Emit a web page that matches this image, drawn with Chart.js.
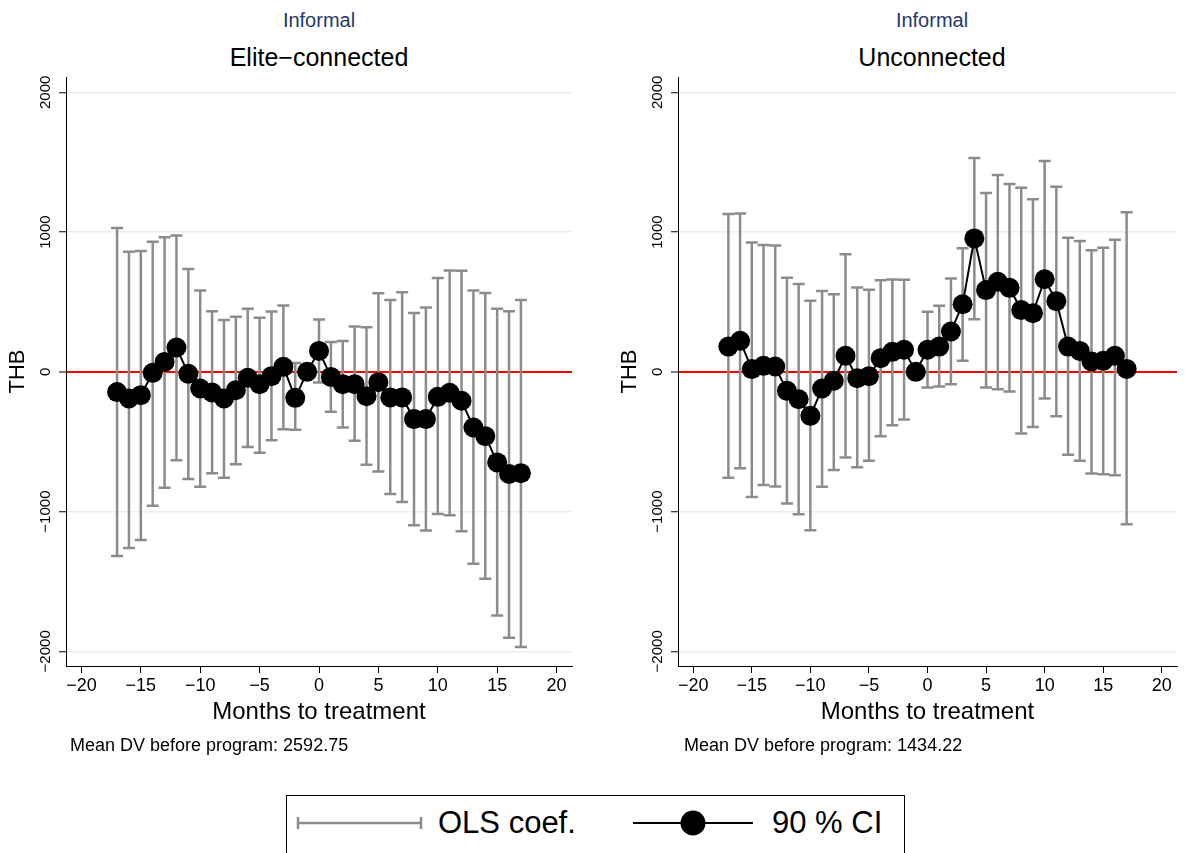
<!DOCTYPE html>
<html>
<head>
<meta charset="utf-8">
<script src="https://cdn.jsdelivr.net/npm/chart.js@4.4.1/dist/chart.umd.min.js"></script>
<style>
  body { margin: 0; background: #fff; width: 1187px; height: 853px; position: relative; overflow: hidden;
         font-family: "Liberation Sans", Arial, sans-serif; }
  canvas { position: absolute; }
  .t { position: absolute; white-space: nowrap; transform: translate(-50%, -50%); }
  .title { font-size: 20px; color: #26396b; }
  .sub { font-size: 25px; color: #000; }
  .note { position: absolute; font-size: 18px; color: #000; white-space: nowrap; transform: translateY(-50%); }
  .legend { position: absolute; left: 286px; top: 795px; width: 619px; height: 60px; border: 1px solid #000; box-sizing: border-box; }
  .legend span { position: absolute; top: 27px; transform: translateY(-50%); font-size: 31px; color: #000; }
</style>
</head>
<body>
<div class="t title" style="left:319px; top:20px;">Informal</div>
<div class="t sub" style="left:319px; top:57px;">Elite−connected</div>
<div class="t title" style="left:932px; top:20px;">Informal</div>
<div class="t sub" style="left:932px; top:57px;">Unconnected</div>

<canvas id="left" width="593" height="680" style="left:0px; top:60px;"></canvas>
<canvas id="right" width="575" height="680" style="left:612px; top:60px;"></canvas>

<div class="note" style="left:70px; top:745px;">Mean DV before program: 2592.75</div>
<div class="note" style="left:684px; top:745px;">Mean DV before program: 1434.22</div>

<div class="legend">
  <svg width="619" height="60" style="position:absolute;left:-1px;top:-1px">
    <g stroke="#8c8c8c" stroke-width="2.5">
      <line x1="12" y1="28" x2="135" y2="28"/>
      <line x1="12" y1="22" x2="12" y2="34"/>
      <line x1="135" y1="22" x2="135" y2="34"/>
    </g>
    <line x1="347" y1="28" x2="467" y2="28" stroke="#000" stroke-width="2"/>
    <circle cx="407" cy="28" r="12.5" fill="#000"/>
  </svg>
  <span style="left:151px;">OLS coef.</span>
  <span style="left:485px;">90 % CI</span>
</div>

<script>
const months = [-17,-16,-15,-14,-13,-12,-11,-10,-9,-8,-7,-6,-5,-4,-3,-2,-1,
                0,1,2,3,4,5,6,7,8,9,10,11,12,13,14,15,16,17];
const xTicks = [-20,-15,-10,-5,0,5,10,15,20];
const yTicks = [-2000,-1000,0,1000,2000];

// Elite-connected
const eliteCoef = [-145,-190,-167,-7,71,174,-14,-119,-148,-190,-131,-43,-88,-31,36,-186,0,
                   150,-36,-88,-88,-174,-74,-183,-183,-338,-338,-179,-150,-207,-398,-460,-648,-731,-726];
const eliteHi = [1029,860,864,931,964,976,736,583,433,371,395,452,388,431,474,64,null,
                 374,214,221,324,319,562,514,569,421,460,671,726,724,583,564,452,433,514];
const eliteLo = [-1317,-1260,-1203,-959,-830,-633,-767,-823,-726,-757,-662,-538,-579,-490,-410,-415,null,
                 -76,-286,-398,-493,-664,-714,-874,-931,-1098,-1136,-1017,-1026,-1140,-1374,-1481,-1743,-1902,-1969];

// Unconnected
const unconCoef = [181,222,20,43,38,-136,-196,-315,-119,-64,115,-45,-31,98,143,158,0,
                   158,181,289,484,955,585,644,601,442,420,663,506,181,150,74,79,115,21];
const unconHi = [1129,1134,926,907,905,673,628,508,578,556,842,604,587,656,661,659,null,
                 430,473,668,885,1530,1279,1408,1344,1317,1236,1508,1325,959,936,871,888,945,1143];
const unconLo = [-757,-690,-895,-809,-821,-943,-1019,-1134,-823,-702,-613,-683,-637,-461,-382,-341,null,
                 -112,-105,-88,79,377,-112,-124,-141,-442,-394,-191,-317,-594,-637,-728,-733,-740,-1091];

const FONT = '"Liberation Sans", Arial, sans-serif';
const fmt = v => v < 0 ? '\u2212' + Math.abs(v) : String(v);

// grey CI whiskers with caps, placed through the chart's scales
const errorBars = {
  id: 'errorBars',
  beforeDatasetsDraw(chart, args, opts) {
    const { ctx, scales: { x, y } } = chart;
    ctx.save();
    ctx.strokeStyle = '#8c8c8c';
    ctx.lineWidth = 2.5;
    opts.lo.forEach((lo, i) => {
      const hi = opts.hi[i];
      if (lo == null || hi == null) return;
      const px = x.getPixelForValue(months[i]);
      const p1 = y.getPixelForValue(lo), p2 = y.getPixelForValue(hi);
      ctx.beginPath();
      ctx.moveTo(px, p1); ctx.lineTo(px, p2);
      ctx.moveTo(px - 6, p1); ctx.lineTo(px + 6, p1);
      ctx.moveTo(px - 6, p2); ctx.lineTo(px + 6, p2);
      ctx.stroke();
    });
    ctx.restore();
  }
};

// vertical y tick labels (Stata style)
const yLabels = {
  id: 'yLabels',
  afterDraw(chart) {
    const { ctx, chartArea, scales: { y } } = chart;
    ctx.save();
    ctx.fillStyle = '#000';
    ctx.font = '15px ' + FONT;
    ctx.textAlign = 'center';
    ctx.textBaseline = 'middle';
    yTicks.forEach(v => {
      ctx.save();
      ctx.translate(chartArea.left - 20, y.getPixelForValue(v));
      ctx.rotate(-Math.PI / 2);
      ctx.fillText(fmt(v), 0, 0);
      ctx.restore();
    });
    ctx.restore();
  }
};

function makeChart(id, coef, lo, hi, padRight) {
  return new Chart(document.getElementById(id), {
    type: 'line',
    data: {
      datasets: [{
        data: months.map((m, i) => ({ x: m, y: coef[i] })),
        borderColor: '#000',
        backgroundColor: '#000',
        borderWidth: 2,
        pointRadius: 10,
        pointHoverRadius: 10,
        pointBorderWidth: 0,
        tension: 0
      }]
    },
    options: {
      responsive: false,
      animation: false,
      events: [],
      layout: { padding: { top: 17, right: padRight, left: 0, bottom: 0 } },
      plugins: {
        legend: { display: false },
        tooltip: { enabled: false },
        errorBars: { lo, hi }
      },
      scales: {
        x: {
          type: 'linear',
          min: -21.3,
          max: 21.3,
          afterBuildTicks: s => { s.ticks = xTicks.map(v => ({ value: v })); },
          afterFit: s => { s.height = 74; },
          grid: { drawOnChartArea: false, drawTicks: true, tickLength: 7, tickColor: '#000', tickWidth: 1 },
          border: { color: '#000', width: 1 },
          ticks: { color: '#000', font: { size: 18, family: FONT }, padding: 2, maxRotation: 0, callback: v => fmt(v) },
          title: { display: true, text: 'Months to treatment', color: '#000', font: { size: 24, family: FONT }, padding: { top: 0, bottom: 13 } }
        },
        y: {
          type: 'linear',
          min: -2105,
          max: 2110,
          afterBuildTicks: s => { s.ticks = yTicks.map(v => ({ value: v })); },
          afterFit: s => { s.width = 66; },
          grid: {
            color: c => (c.tick && c.tick.value === 0) ? '#ff0000' : '#e6eff2',
            lineWidth: c => (c.tick && c.tick.value === 0) ? 2 : 1.5,
            tickColor: '#000', tickWidth: 1, tickLength: 7
          },
          border: { color: '#000', width: 1 },
          ticks: { display: false },
          title: { display: true, text: 'THB', color: '#000', font: { size: 22, family: FONT }, padding: { top: 5, bottom: 0 } }
        }
      }
    },
    plugins: [errorBars, yLabels]
  });
}

makeChart('left', eliteCoef, eliteLo, eliteHi, 21);
makeChart('right', unconCoef, unconLo, unconHi, 1);
</script>
</body>
</html>
